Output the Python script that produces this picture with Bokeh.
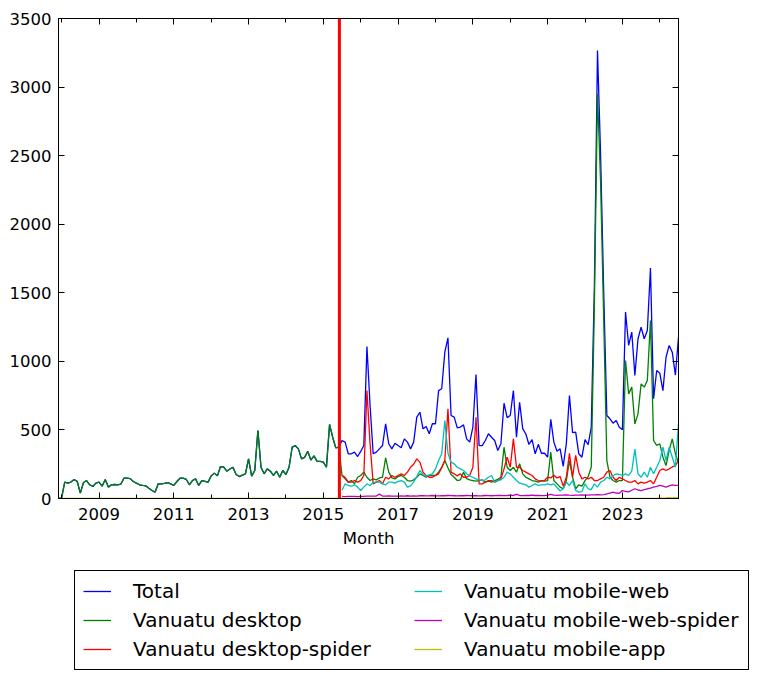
from bokeh.plotting import figure
from bokeh.models import (LinearAxis, FixedTicker, Span, Legend, LegendItem,
                          Range1d, CustomJSTickFormatter)
from bokeh.layouts import column
from bokeh.embed import file_html
from bokeh.resources import INLINE

# ---- data (monthly views) ----
# Dec 2007 - Jun 2015: legacy counts, desktop only (Total == desktop)
legacy = [0, 5, 119, 112, 120, 138, 126, 39, 115, 131, 100, 88, 112, 119, 90, 139,
          83, 100, 102, 100, 105, 148, 148, 145, 124, 112, 100, 95, 93, 75, 58, 46,
          107, 107, 110, 116, 107, 95, 124, 148, 148, 140, 100, 131, 143, 95, 131,
          125, 119, 165, 185, 165, 233, 230, 199, 215, 228, 175, 160, 170, 180, 289,
          163, 204, 496, 228, 180, 216, 199, 168, 199, 155, 204, 175, 228, 374, 385,
          362, 289, 300, 345, 280, 311, 271, 271, 265, 228, 540, 447, 369, 375]

# Jul 2015 - Jul 2024
total_new = [423, 411, 326, 326, 338, 306, 343, 386, 1108, 680, 326, 338, 362, 386,
             545, 399, 362, 403, 386, 370, 435, 411, 362, 411, 593, 629, 508, 525,
             472, 545, 545, 787, 800, 1067, 1172, 605, 593, 515, 521, 537, 435, 411,
             520, 904, 386, 386, 423, 472, 447, 423, 350, 399, 695, 590, 605, 787,
             447, 702, 510, 470, 394, 430, 326, 395, 330, 330, 301, 577, 411, 345,
             362, 235, 400, 751, 480, 484, 326, 301, 430, 392, 520, 1550, 3267, 2500,
             1500, 605, 581, 549, 569, 520, 501, 1359, 1116, 1213, 897, 1165, 1249,
             1165, 1225, 1680, 727, 933, 914, 787, 1030, 1116, 1067, 900, 1176]

desktop_new = [168, 143, 119, 131, 107, 155, 168, 192, 155, 131, 143, 136, 150, 155,
               297, 192, 150, 143, 160, 168, 155, 131, 126, 136, 155, 180, 168, 155,
               168, 168, 168, 192, 228, 277, 224, 175, 155, 131, 136, 192, 145, 136,
               131, 126, 131, 136, 119, 126, 119, 131, 140, 155, 374, 228, 204, 228,
               192, 253, 180, 155, 143, 131, 126, 119, 131, 126, 130, 338, 131, 107,
               83, 71, 131, 277, 155, 71, 100, 90, 130, 160, 228, 1400, 2951, 2300,
               1300, 277, 155, 131, 119, 131, 131, 1006, 763, 812, 544, 617, 836, 812,
               860, 1298, 423, 387, 399, 301, 240, 350, 435, 326, 260]

desktop_spider = [170, 155, 119, 119, 131, 119, 130, 168, 788, 400, 107, 119, 131, 107,
                  155, 143, 168, 155, 168, 180, 168, 192, 228, 250, 289, 265, 192, 168,
                  155, 155, 168, 180, 224, 277, 654, 192, 180, 165, 180, 155, 155, 170,
                  228, 593, 107, 107, 119, 131, 131, 119, 130, 143, 216, 301, 228, 435,
                  228, 228, 204, 192, 180, 168, 143, 131, 126, 131, 155, 150, 170, 150,
                  160, 90, 155, 330, 155, 314, 192, 143, 155, 143, 155, 131, 131, 143,
                  155, 192, 204, 155, 131, 155, 143, 131, 119, 119, 131, 107, 119, 112,
                  119, 131, 107, 155, 204, 216, 204, 216, 230, 240, 277]

mobile_web = [60, 107, 95, 90, 100, 83, 58, 83, 107, 95, 117, 119, 119, 107, 100, 119,
              119, 112, 125, 131, 119, 83, 92, 119, 160, 204, 175, 165, 172, 180, 216,
              277, 326, 569, 330, 265, 253, 228, 216, 204, 180, 165, 155, 143, 136, 131,
              136, 155, 168, 119, 130, 136, 155, 192, 180, 155, 131, 112, 107, 100, 83,
              95, 107, 95, 100, 100, 107, 100, 107, 80, 55, 71, 119, 95, 131, 58, 46,
              50, 107, 71, 65, 107, 83, 119, 131, 155, 143, 168, 180, 175, 168, 180,
              168, 200, 360, 180, 155, 192, 155, 228, 180, 228, 277, 374, 277, 374,
              301, 228, 544]

mobile_web_spider = [15, 14, 16, 15, 15, 14, 16, 15, 17, 18, 17, 18, 32, 18, 17, 19, 18,
                     18, 17, 19, 18, 20, 18, 19, 18, 20, 21, 19, 20, 22, 20, 19, 21, 20,
                     22, 21, 20, 19, 21, 20, 22, 21, 20, 21, 19, 20, 22, 21, 20, 21, 22,
                     23, 21, 22, 24, 22, 30, 22, 21, 23, 22, 24, 22, 23, 21, 22, 24, 30,
                     24, 23, 25, 24, 26, 24, 23, 25, 24, 26, 25, 24, 27, 26, 28, 27, 29,
                     34, 40, 46, 40, 38, 58, 52, 48, 60, 71, 62, 58, 65, 71, 75, 83, 88,
                     95, 90, 83, 92, 100, 95, 95]

# Dec 2007 - Jul 2024
mobile_app = [0] * 193 + [2, 3, 4, 6, 5, 7, 8]

total = legacy + total_new
desktop = legacy + desktop_new

series_names = ["Total", "Vanuatu desktop", "Vanuatu desktop-spider",
                "Vanuatu mobile-web", "Vanuatu mobile-web-spider", "Vanuatu mobile-app"]
series_colors = ["#0000ff", "#008000", "#ff0000", "#00bfbf", "#bf00bf", "#bfbf00"]

major_years = [2009, 2011, 2013, 2015, 2017, 2019, 2021, 2023]
minor_years = list(range(2008, 2025))
y_ticks = [0, 500, 1000, 1500, 2000, 2500, 3000, 3500]
pageviews_cutover = 2015.43   # red marker line


def month_x(year, month, n):
    return [year + (month - 1 + k) / 12 for k in range(n)]


x_all = month_x(2007, 12, len(total))

p = figure(frame_width=620, frame_height=480,
           x_range=Range1d(x_all[0], x_all[-1]), y_range=Range1d(0, 3500),
           output_backend="svg", toolbar_location=None,
           min_border_left=58, min_border_right=76, min_border_top=18,
           min_border_bottom=60, background_fill_color="white",
           border_fill_color="white")
p.frame_align = False
p.grid.visible = False
p.outline_line_color = "black"
p.outline_line_width = 1

FONT = "DejaVu Sans"


def style_axis(ax, minor=True, labels=True):
    ax.axis_line_color = "black"
    ax.major_tick_line_color = "black"
    ax.major_tick_in = 6
    ax.major_tick_out = 0
    if minor:
        ax.minor_tick_line_color = "black"
        ax.minor_tick_in = 4
        ax.minor_tick_out = 0
    else:
        ax.minor_tick_line_color = None
    ax.major_label_text_font = FONT
    ax.major_label_text_color = "black"
    if labels:
        ax.major_label_text_font_size = "16.5px"
    else:
        ax.major_label_text_font_size = "0px"
        ax.major_label_standoff = 0
        ax.formatter = CustomJSTickFormatter(code="return ''")


xax = p.xaxis[0]
xax.ticker = FixedTicker(ticks=major_years, minor_ticks=minor_years)
style_axis(xax)
xax.major_label_standoff = 9
xax.axis_label = "Month"
xax.axis_label_text_font = FONT
xax.axis_label_text_font_size = "16.5px"
xax.axis_label_text_font_style = "normal"
xax.axis_label_text_color = "black"
xax.axis_label_standoff = 6

yax = p.yaxis[0]
yax.ticker = FixedTicker(ticks=y_ticks)
style_axis(yax, minor=False)
yax.major_label_standoff = 7

top = LinearAxis(ticker=FixedTicker(ticks=major_years, minor_ticks=minor_years))
style_axis(top, labels=False)
p.add_layout(top, "above")

right = LinearAxis(ticker=FixedTicker(ticks=y_ticks))
style_axis(right, minor=False, labels=False)
p.add_layout(right, "right")

data = [
    (x_all, total),
    (x_all, desktop),
    (month_x(2015, 7, len(desktop_spider)), desktop_spider),
    (month_x(2015, 7, len(mobile_web)), mobile_web),
    (month_x(2015, 7, len(mobile_web_spider)), mobile_web_spider),
    (month_x(2007, 12, len(mobile_app)), mobile_app),
]

for (xs, ys), color in zip(data, series_colors):
    p.line(xs, ys, line_color=color, line_width=1.3)

p.add_layout(Span(location=pageviews_cutover, dimension="height",
                  line_color="#ff0000", line_width=3))

# ---- legend panel (separate strip below the chart) ----
lg = figure(width=754, height=115, output_backend="svg", toolbar_location=None,
            x_range=Range1d(0, 1), y_range=Range1d(0, 1),
            x_axis_location=None, y_axis_location=None, min_border=0,
            background_fill_color="white", border_fill_color="white")
lg.frame_align = False
lg.grid.visible = False
lg.outline_line_color = None

# same series, drawn outside this strip's view: they only feed the legend
proxies = [lg.line(xs, ys, line_color=c, line_width=1.3)
           for (xs, ys), c in zip(data, series_colors)]
items = [LegendItem(label=n, renderers=[r]) for n, r in zip(series_names, proxies)]
legend = Legend(items=items, location=(74, 3), nrows=3, orientation="vertical",
                label_text_font=FONT, label_text_font_size="20px",
                label_text_color="black",
                glyph_width=28, glyph_height=24, label_height=24, label_width=276,
                label_standoff=22, spacing=5, padding=8, margin=0,
                border_line_color="black", border_line_width=1,
                border_line_alpha=1.0,
                background_fill_color="white", background_fill_alpha=1)
lg.add_layout(legend, "center")

layout = column(p, lg, spacing=0)
open("out.html", "w").write(file_html(layout, INLINE))
